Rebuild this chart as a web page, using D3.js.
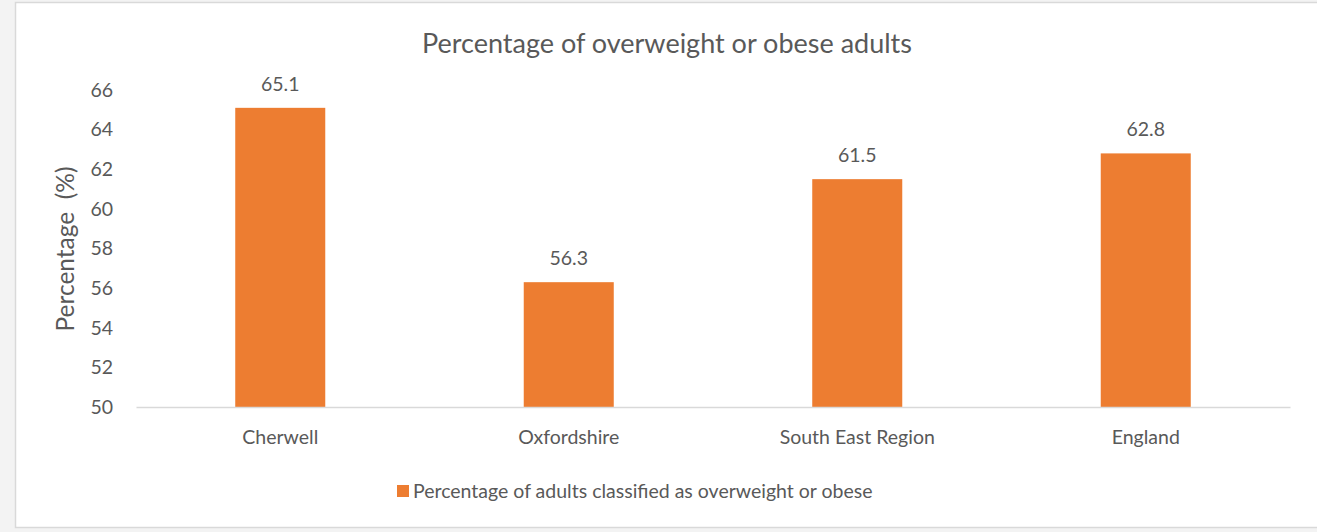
<!DOCTYPE html>
<html><head><meta charset="utf-8">
<script src="https://cdn.jsdelivr.net/npm/d3@7"></script>
<style>body{margin:0;background:#f3f3f3;}svg{display:block;}</style>
</head><body>
<svg id="c" width="1317" height="532"></svg>
<script>
const categories = ["Cherwell","Oxfordshire","South East Region","England"];
const values = [65.1, 56.3, 61.5, 62.8];
const yTicks = [50,52,54,56,58,60,62,64,66];
const seriesName = "Percentage of adults classified as overweight or obese";
const titleText = "Percentage of overweight or obese adults";
const yTitle = "Percentage  (%)";

const svg = d3.select("#c");
const font = "Lato, 'Open Sans', sans-serif";
const txt = "#595959";
svg.append("rect").attr("x",15.5).attr("y",2.5).attr("width",1320).attr("height",525)
  .attr("fill","#fff").attr("stroke","#d9d9d9").attr("stroke-width",1.5);

const x = d3.scaleBand().domain(categories).range([136,1290]).paddingInner(0.688).paddingOuter(0.344);
const y = d3.scaleLinear().domain([50,66]).range([407,90]);

svg.append("text").attr("x",667).attr("y",53).attr("text-anchor","middle")
  .attr("font-family",font).attr("font-size",27).attr("fill",txt).text(titleText);

svg.selectAll("rect.bar").data(values).join("rect").attr("class","bar")
  .attr("x",(d,i)=>x(categories[i])).attr("width",x.bandwidth())
  .attr("y",d=>y(d)).attr("height",d=>y(50)-y(d)).attr("fill","#ed7d31");

svg.selectAll("text.val").data(values).join("text").attr("class","val")
  .attr("x",(d,i)=>x(categories[i])+x.bandwidth()/2).attr("y",d=>y(d)-17)
  .attr("text-anchor","middle").attr("font-family",font).attr("font-size",19.5).attr("fill",txt)
  .text(d=>d.toFixed(1));

const yAxis = d3.axisLeft(y).tickValues(yTicks).tickSize(0).tickPadding(0);
const ga = svg.append("g").attr("transform","translate(113,0)").call(yAxis);
ga.select(".domain").remove();
ga.selectAll("text").attr("font-family",font).attr("font-size",19.5).attr("fill",txt);

const xAxis = d3.axisBottom(x).tickSize(0).tickPadding(0);
const gx = svg.append("g").attr("transform","translate(0,407)").call(xAxis);
gx.select(".domain").attr("stroke","#d9d9d9").attr("stroke-width",1.5);
gx.selectAll("text").attr("font-family",font).attr("font-size",19.5).attr("fill",txt)
  .attr("dy",null).attr("y",37);

svg.append("text").attr("transform","translate(74,249) rotate(-90)").attr("text-anchor","middle")
  .attr("font-family",font).attr("font-size",24.5).attr("fill",txt).attr("xml:space","preserve")
  .style("white-space","pre").text(yTitle);

const lg = svg.append("g");
lg.append("rect").attr("x",397).attr("y",485).attr("width",12).attr("height",12).attr("fill","#ed7d31");
lg.append("text").attr("x",413).attr("y",498).attr("font-family",font).attr("font-size",19.5).attr("fill",txt).text(seriesName);
</script>
</body></html>
